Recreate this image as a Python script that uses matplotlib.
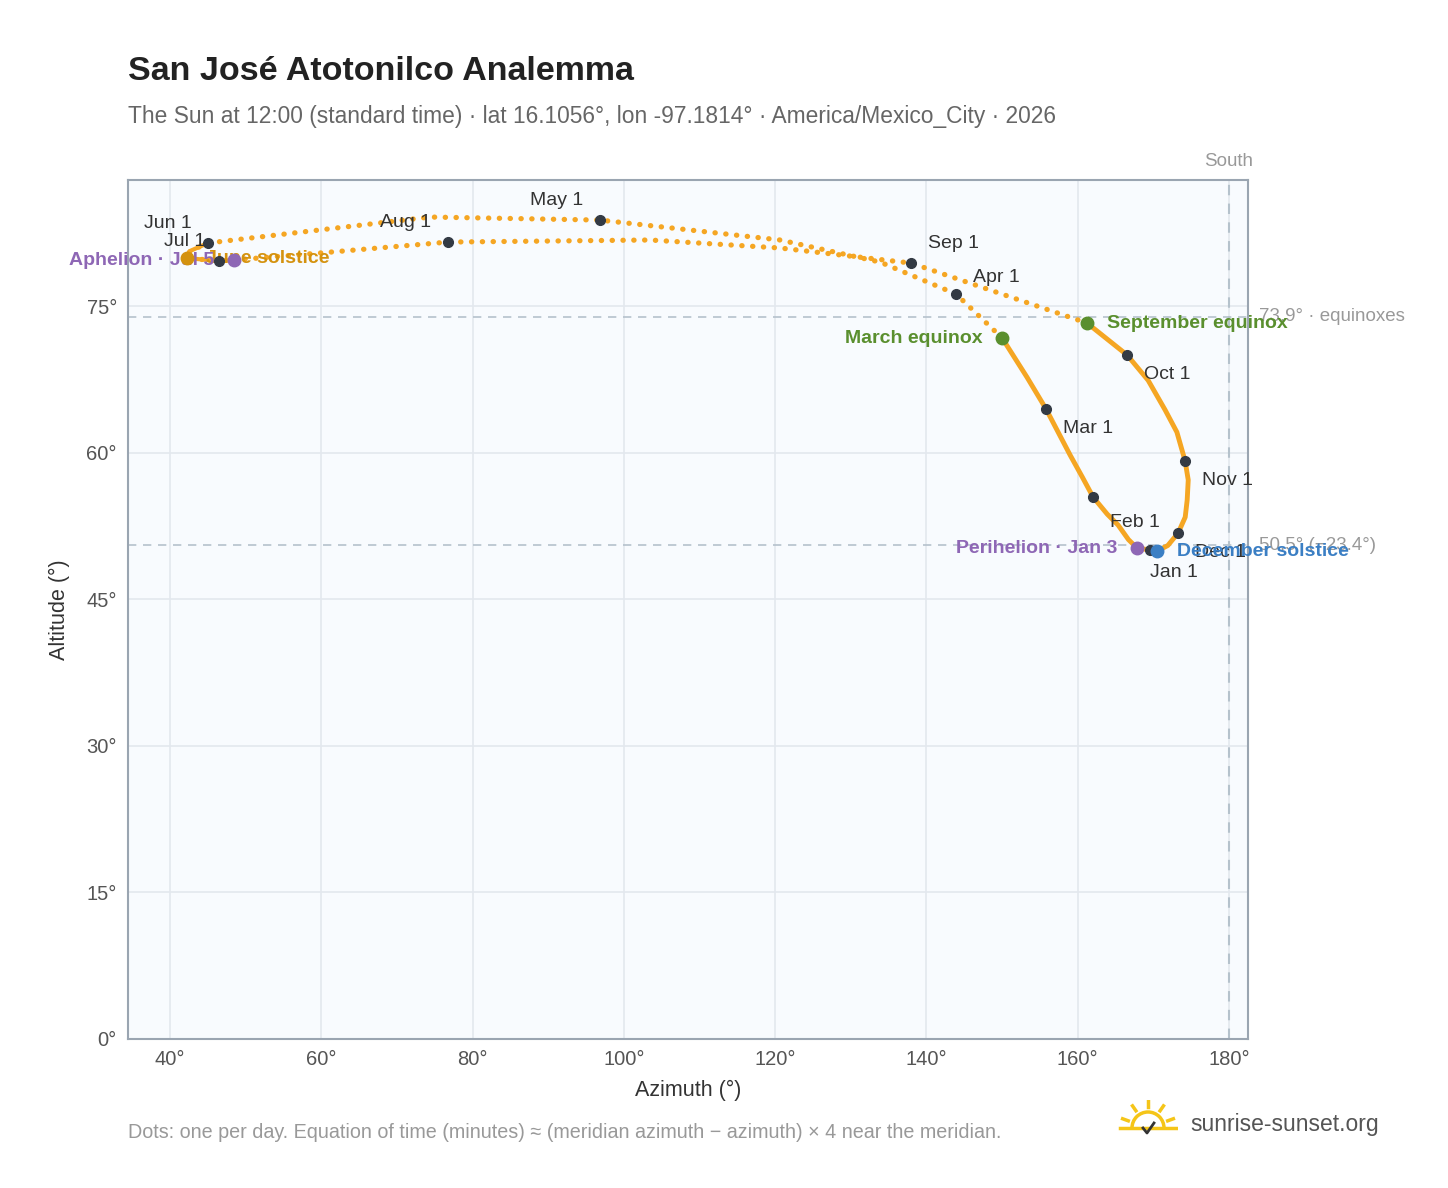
import matplotlib
matplotlib.use("Agg")
import matplotlib.pyplot as plt
import numpy as np
from matplotlib.patches import Arc

plt.rcParams['font.family'] = ['Liberation Sans', 'DejaVu Sans']

# path points (chronological)
dates = ["Jan 1","Jan 3","Jan 8","Jan 15","Jan 22","Feb 1","Feb 8","Feb 15","Feb 22","Mar 1","Mar 10","Mar 20",
         "Apr 1","Apr 15","Apr 22","May 1","May 15","Jun 1","Jun 10","Jun 21","Jul 1","Jul 5","Jul 15","Aug 1",
         "Aug 15","Aug 22","Sep 1","Sep 10","Sep 22","Oct 1","Oct 8","Oct 15","Oct 22","Nov 1","Nov 8","Nov 15",
         "Nov 22","Dec 1","Dec 10","Dec 21","Dec 31"]
az  = [169.56,167.84,166.7,165.33,163.9,162.02,160.6,158.98,157.4,155.81,153.3,150.00,
       143.91,133.87,120.65,96.85,74.37,45.02,42.64,42.25,46.48,48.46,59.83,76.75,
       103.46,120.65,137.96,148.41,161.23,166.52,169.3,171.55,173.1,174.19,174.6,174.46,
       174.2,173.26,171.9,170.49,169.6]
alt = [50.04,50.24,51.1,52.59,53.7,55.46,57.5,59.76,62.1,64.46,67.7,71.73,
       76.23,79.50,81.76,83.80,84.11,81.45,80.63,79.91,79.61,79.71,80.43,81.55,
       81.76,80.94,79.40,76.64,73.26,69.99,67.4,64.36,62.1,59.14,57.2,55.15,
       53.4,51.77,50.5,49.93,50.04]

month_labels = ["Jan 1","Feb 1","Mar 1","Apr 1","May 1","Jun 1","Jul 1","Aug 1","Sep 1","Oct 1","Nov 1","Dec 1"]
label_offsets = {"Jan 1":(0,-16,'left'),"Feb 1":(12,-18,'left'),"Mar 1":(12,-14,'left'),"Apr 1":(12,12,'left'),
                 "May 1":(-12,14,'right'),"Jun 1":(-12,14,'right'),"Jul 1":(-10,14,'right'),"Aug 1":(-12,14,'right'),
                 "Sep 1":(12,14,'left'),"Oct 1":(12,-14,'left'),"Nov 1":(12,-14,'left'),"Dec 1":(12,-14,'left')}

equinox_alt = 73.9
solstice_alt = 50.5

fig = plt.figure(figsize=(14.48, 11.88), dpi=100)
ax = fig.add_axes([128/1448, 1-1039/1188, 1120/1448, (1039-180)/1188])
ax.set_facecolor('#f8fbfe')
ax.set_xlim(34.45, 182.5)
ax.set_ylim(0, 87.9)
ax.set_xticks(range(40, 181, 20))
ax.set_xticklabels([f"{v}°" for v in range(40, 181, 20)])
ax.set_yticks(range(0, 76, 15))
ax.set_yticklabels([f"{v}°" for v in range(0, 76, 15)])
ax.grid(color='#e3e8ee', lw=1.2)
ax.set_axisbelow(True)
for s in ax.spines.values():
    s.set_color('#9aa5b1'); s.set_linewidth(1.5)
ax.tick_params(colors='#555', labelsize=14.5, length=0, pad=8)
ax.set_xlabel("Azimuth (°)", fontsize=15.5, color='#333', labelpad=8)
ax.set_ylabel("Altitude (°)", fontsize=15.5, color='#333', labelpad=12)

# reference lines
ax.axhline(equinox_alt, color='#b5c2cc', ls=(0,(5,4)), lw=1.2)
ax.axhline(solstice_alt, color='#b5c2cc', ls=(0,(5,4)), lw=1.2)
ax.axvline(180, color='#b5c2cc', ls=(0,(5,4)), lw=1.5)
ax.text(1.01, equinox_alt, "73.9° · equinoxes", transform=ax.get_yaxis_transform(), color='#999', fontsize=13.5, va='center')
ax.text(1.01, solstice_alt, "50.5° (−23.4°)", transform=ax.get_yaxis_transform(), color='#999', fontsize=13.5, va='center')
ax.text(180, 88.9, "South", color='#999', fontsize=13.5, ha='center', va='bottom', clip_on=False)

orange = '#f5a623'
idx = {d:i for i,d in enumerate(dates)}
winter = list(range(idx["Sep 22"], len(dates))) + list(range(0, idx["Mar 20"]+1))
ax.plot([az[i] for i in winter], [alt[i] for i in winter], color=orange, lw=3.5, solid_capstyle='round', solid_joinstyle='round')
summer = list(range(idx["Mar 20"], idx["Sep 22"]+1))
ax.plot([az[i] for i in summer], [alt[i] for i in summer], color=orange, lw=3.8, ls=(0,(0.05,2.0)), dash_capstyle='round')
solst = list(range(idx["Jun 1"], idx["Jul 5"]+1))
ax.plot([az[i] for i in solst], [alt[i] for i in solst], color=orange, lw=3, solid_capstyle='round')

for m in month_labels:
    i = idx[m]
    ax.plot(az[i], alt[i], 'o', color='#333a44', ms=7, zorder=5)
    dx, dy, ha = label_offsets[m]
    ax.annotate(m, (az[i], alt[i]), xytext=(dx, dy), textcoords='offset points', ha=ha, va='center',
                fontsize=14, color='#333')

def special(d, color, text, dx, ha):
    i = idx[d]
    ax.plot(az[i], alt[i], 'o', color=color, ms=9, zorder=6)
    ax.annotate(text, (az[i], alt[i]), xytext=(dx, 0), textcoords='offset points', ha=ha, va='center',
                fontsize=14, color=color, fontweight='bold')

special("Mar 20", '#5a8f2e', "March equinox", -14, 'right')
special("Sep 22", '#5a8f2e', "September equinox", 14, 'left')
special("Jun 21", '#d4920f', "June solstice", 14, 'left')
special("Jul 5", '#8e67b5', "Aphelion · Jul 5", -14, 'right')
special("Jan 3", '#8e67b5', "Perihelion · Jan 3", -14, 'right')
special("Dec 21", '#3b7fc4', "December solstice", 14, 'left')

fig.text(128/1448, 1-72/1188, "San José Atotonilco Analemma", fontsize=24.5, fontweight='bold', color='#222', va='center')
fig.text(128/1448, 1-116/1188, "The Sun at 12:00 (standard time) · lat 16.1056°, lon -97.1814° · America/Mexico_City · 2026",
         fontsize=16.4, color='#666', va='center')
fig.text(128/1448, 1-1133/1188, "Dots: one per day. Equation of time (minutes) ≈ (meridian azimuth − azimuth) × 4 near the meridian.",
         fontsize=14.2, color='#999', va='center')
fig.text(1190/1448, 1-1125/1188, "sunrise-sunset.org", fontsize=16.5, color='#555', va='center')

# logo
lax = fig.add_axes([1118/1448, 1-1140/1188, 60/1448, 40/1188])
lax.set_xlim(-1.5, 1.5); lax.set_ylim(-0.6, 1.4); lax.set_aspect('equal'); lax.axis('off')
lax.add_patch(Arc((0, 0), 1.6, 1.6, theta1=0, theta2=180, color='#f5c518', lw=2.5))
for a in np.deg2rad([20, 55, 90, 125, 160]):
    lax.plot([1.05*np.cos(a), 1.35*np.cos(a)], [1.05*np.sin(a), 1.35*np.sin(a)], color='#f5c518', lw=2.5)
lax.plot([-1.4, 1.4], [0, 0], color='#f5c518', lw=2.5)
lax.plot([-0.25, -0.05, 0.3], [0.0, -0.25, 0.25], color='#333', lw=2)

fig.savefig("out.png", dpi=100)
